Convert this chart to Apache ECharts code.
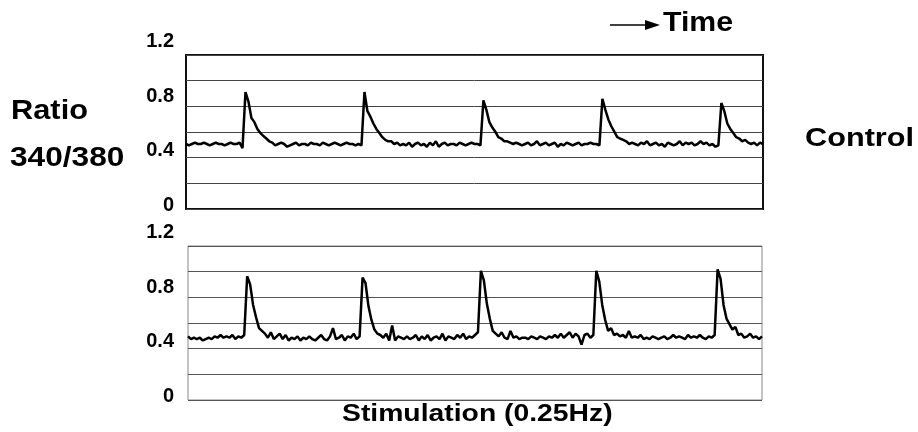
<!DOCTYPE html>
<html>
  <head>
    <meta charset="utf-8" />
    <title>Ratio 340/380 - Control</title>
    <script src="https://cdn.jsdelivr.net/npm/echarts@6/dist/echarts.min.js"></script>
    <style>
      * {
        padding: 0;
        margin: 0;
      }
      #chart-panel {
        width: 918px;
        height: 432px;
      }
    </style>
  </head>
  <body>
    <div id="chart-panel"></div>
    <script type="text/javascript">
      // y tick labels (ratio 340/380)
      const ratioTicks = [0, 0.4, 0.8, 1.2];

      // sampling step of the traces, seconds (stimulation at 0.25Hz -> one peak every 4 s)
      const stepSec = 0.1;

      // upper trace
      const controlTop = [
        0.45, 0.44, 0.45, 0.46, 0.45, 0.45, 0.46, 0.45, 0.44, 0.45,
        0.46, 0.45, 0.45, 0.44, 0.45, 0.46, 0.45, 0.45, 0.46, 0.42,
        0.83, 0.76, 0.64, 0.61, 0.56, 0.53, 0.51, 0.49, 0.47, 0.46,
        0.44, 0.45, 0.46, 0.45, 0.43, 0.44, 0.45, 0.46, 0.44, 0.45,
        0.45, 0.44, 0.46, 0.45, 0.45, 0.44, 0.46, 0.45, 0.44, 0.45,
        0.46, 0.45, 0.44, 0.45, 0.46, 0.45, 0.45, 0.44, 0.45, 0.44,
        0.83, 0.69, 0.65, 0.6, 0.56, 0.53, 0.5, 0.48, 0.47, 0.47,
        0.45, 0.46, 0.44, 0.45, 0.44, 0.46, 0.43, 0.45, 0.46, 0.44,
        0.45, 0.43, 0.46, 0.44, 0.47, 0.43, 0.45, 0.46, 0.44, 0.45,
        0.45, 0.44, 0.46, 0.45, 0.44, 0.45, 0.46, 0.45, 0.45, 0.44,
        0.77, 0.7, 0.61, 0.57, 0.54, 0.5, 0.49, 0.47, 0.47, 0.46,
        0.45, 0.46, 0.45, 0.44, 0.45, 0.46, 0.44, 0.45, 0.47, 0.44,
        0.45, 0.46, 0.44, 0.45, 0.46, 0.43, 0.45, 0.44, 0.46, 0.45,
        0.44, 0.45, 0.46, 0.44, 0.45, 0.45, 0.46, 0.45, 0.45, 0.44,
        0.78, 0.7, 0.63, 0.58, 0.54, 0.5, 0.49, 0.48, 0.47, 0.45,
        0.46, 0.45, 0.44, 0.46, 0.45, 0.47, 0.44, 0.45, 0.46, 0.44,
        0.45, 0.43, 0.46, 0.45, 0.44, 0.45, 0.47, 0.44, 0.46, 0.45,
        0.46, 0.44, 0.45, 0.47, 0.45, 0.46, 0.44, 0.45, 0.43, 0.44,
        0.75, 0.69, 0.6, 0.56, 0.53, 0.5, 0.49, 0.47, 0.48, 0.46,
        0.45, 0.46, 0.44, 0.46, 0.45,
      ];

      // lower trace
      const controlBottom = [
        0.44, 0.42, 0.43, 0.42, 0.43, 0.41, 0.42, 0.43, 0.42, 0.44,
        0.43, 0.45, 0.43, 0.44, 0.43, 0.45, 0.42, 0.44, 0.43, 0.45,
        0.88, 0.82, 0.67, 0.58, 0.5, 0.48, 0.46, 0.43, 0.47, 0.42,
        0.44, 0.46, 0.42, 0.45, 0.41, 0.43, 0.42, 0.44, 0.41, 0.43,
        0.42, 0.44, 0.42, 0.41, 0.43, 0.45, 0.42, 0.41, 0.44, 0.5,
        0.42, 0.43, 0.45, 0.41, 0.44, 0.43, 0.46, 0.42, 0.44, 0.87,
        0.83, 0.66, 0.56, 0.49, 0.46, 0.45, 0.43, 0.46, 0.41, 0.52,
        0.41, 0.44, 0.43, 0.42, 0.44, 0.42, 0.43, 0.45, 0.41, 0.44,
        0.42, 0.45, 0.41, 0.43, 0.44, 0.42, 0.46, 0.41, 0.44, 0.43,
        0.42, 0.45, 0.43, 0.46, 0.42, 0.44, 0.43, 0.45, 0.47, 0.92,
        0.85, 0.68, 0.57, 0.48, 0.46, 0.44, 0.47, 0.43, 0.42, 0.48,
        0.43, 0.44, 0.42, 0.43, 0.43, 0.42, 0.44, 0.43, 0.42, 0.44,
        0.43, 0.42, 0.44, 0.43, 0.45, 0.43, 0.46, 0.43, 0.45, 0.47,
        0.43, 0.46, 0.44, 0.38, 0.45, 0.46, 0.43, 0.45, 0.92, 0.84,
        0.67, 0.56, 0.48, 0.5, 0.45, 0.46, 0.44, 0.45, 0.43, 0.48,
        0.43, 0.44, 0.43, 0.45, 0.42, 0.43, 0.42, 0.44, 0.43, 0.42,
        0.43, 0.44, 0.42, 0.43, 0.45, 0.43, 0.44, 0.43, 0.42, 0.45,
        0.43, 0.44, 0.43, 0.45, 0.43, 0.42, 0.44, 0.43, 0.45, 0.93,
        0.86, 0.67, 0.57, 0.53, 0.49, 0.51, 0.45, 0.46, 0.43, 0.44,
        0.46, 0.43, 0.44, 0.42, 0.44,
      ];

      const labels = {
        ratio: "Ratio",
        ratioSub: "340/380",
        control: "Control",
        time: "Time",
        stim: "Stimulation (0.25Hz)",
      };

      function toPairs(arr) {
        return arr.map(function (v, i) {
          return [+(i * stepSec).toFixed(1), v];
        });
      }

      var myChart = echarts.init(document.getElementById("chart-panel"));
      var FONT = "'Liberation Sans', Arial, sans-serif";

      // box grid: frame + 6 horizontal bands
      function boxY(gridIndex, color) {
        return {
          type: "value",
          gridIndex: gridIndex,
          min: 0,
          max: 6,
          interval: 1,
          axisLine: { show: false },
          axisTick: { show: false },
          axisLabel: { show: false },
          splitLine: { show: true, lineStyle: { color: color, width: 1 } },
        };
      }
      function hiddenX(gridIndex, max) {
        return { type: "value", gridIndex: gridIndex, min: 0, max: max, show: false };
      }
      function ratioY(gridIndex, margin) {
        return {
          type: "value",
          gridIndex: gridIndex,
          min: 0,
          max: 1.2,
          interval: 0.4,
          axisLine: { show: false },
          axisTick: { show: false },
          splitLine: { show: false },
          axisLabel: {
            margin: margin,
            fontSize: 20,
            fontWeight: "bold",
            fontFamily: FONT,
            color: "#000",
            formatter: function (v) {
              return v === 0 ? "0" : v.toFixed(1);
            },
          },
        };
      }

      var tEnd = (controlTop.length - 1) * stepSec;

      var option = {
        animation: false,
        backgroundColor: "#fff",
        grid: [
          // 0: top frame
          { left: 186, top: 55, width: 577, height: 154, show: true, borderColor: "#111", borderWidth: 2, backgroundColor: "transparent" },
          // 1: top trace + labels
          { left: 186, top: 41.5, width: 577, height: 164 },
          // 2: lower frame
          { left: 188, top: 246, width: 574, height: 154, show: true, borderColor: "#888", borderWidth: 1, backgroundColor: "transparent" },
          // 3: lower trace + labels
          { left: 188, top: 232.5, width: 574, height: 164 },
        ],
        xAxis: [hiddenX(0, 1), hiddenX(1, tEnd), hiddenX(2, 1), hiddenX(3, tEnd)],
        yAxis: [boxY(0, "#444"), ratioY(1, 12), boxY(2, "#555"), ratioY(3, 14)],
        series: [
          {
            type: "line",
            xAxisIndex: 1,
            yAxisIndex: 1,
            data: toPairs(controlTop),
            showSymbol: false,
            lineStyle: { color: "#000", width: 2.5 },
            z: 5,
          },
          {
            type: "line",
            xAxisIndex: 3,
            yAxisIndex: 3,
            data: toPairs(controlBottom),
            showSymbol: false,
            lineStyle: { color: "#000", width: 2.5 },
            z: 5,
          },
        ],
        graphic: [
          {
            type: "text",
            x: 11,
            y: 111,
            scaleX: 1.1,
            style: { text: labels.ratio, font: "bold 28px " + FONT, fill: "#000", verticalAlign: "middle" },
          },
          {
            type: "text",
            x: 10,
            y: 158,
            scaleX: 1.13,
            style: { text: labels.ratioSub, font: "bold 28px " + FONT, fill: "#000", verticalAlign: "middle" },
          },
          {
            type: "text",
            x: 805,
            y: 139,
            scaleX: 1.18,
            style: { text: labels.control, font: "bold 26px " + FONT, fill: "#000", verticalAlign: "middle" },
          },
          {
            type: "text",
            x: 663,
            y: 23,
            scaleX: 1.08,
            style: { text: labels.time, font: "bold 28px " + FONT, fill: "#000", verticalAlign: "middle" },
          },
          {
            type: "line",
            shape: { x1: 610, y1: 25, x2: 648, y2: 25 },
            style: { stroke: "#000", lineWidth: 1.5 },
          },
          {
            type: "polygon",
            shape: { points: [[645, 20], [660, 25], [645, 30]] },
            style: { fill: "#000" },
          },
          {
            type: "text",
            x: 342,
            y: 414,
            scaleX: 1.18,
            style: { text: labels.stim, font: "bold 24px " + FONT, fill: "#000", verticalAlign: "middle" },
          },
        ],
      };

      myChart.setOption(option);
      window.addEventListener("resize", myChart.resize);
    </script>
  </body>
</html>
